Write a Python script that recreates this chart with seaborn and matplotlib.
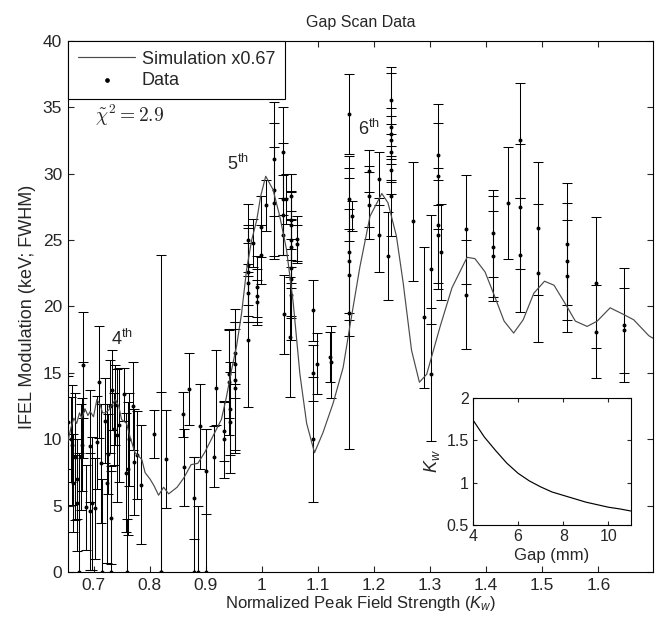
import matplotlib
matplotlib.use("Agg")
import matplotlib.pyplot as plt
import seaborn as sns

# Simulation curve (scaled x0.67)
sim_k = [0.654, 0.660, 0.665, 0.670, 0.675, 0.679, 0.685, 0.690, 0.694, 0.700,
         0.706, 0.712, 0.716, 0.721, 0.727, 0.733, 0.739, 0.745, 0.750, 0.759,
         0.765, 0.774, 0.786, 0.792, 0.801, 0.808, 0.816, 0.825, 0.834, 0.849,
         0.861, 0.874, 0.886, 0.898, 0.910, 0.928, 0.937, 0.946, 0.955, 0.964,
         0.973, 0.982, 0.991, 0.998, 1.007, 1.020, 1.032, 1.044, 1.056, 1.068,
         1.080, 1.094, 1.109, 1.127, 1.145, 1.157, 1.175, 1.193, 1.214, 1.225,
         1.240, 1.252, 1.267, 1.281, 1.294, 1.318, 1.339, 1.366, 1.380, 1.398,
         1.413, 1.432, 1.449, 1.466, 1.485, 1.504, 1.521, 1.544, 1.559, 1.580,
         1.598, 1.621, 1.645, 1.663, 1.690, 1.698]
sim_mod = [9.8, 10.9, 11.6, 11.2, 12.0, 11.6, 12.3, 11.8, 12.1, 11.7,
           13.0, 12.6, 12.0, 12.0, 12.2, 12.6, 13.0, 12.5, 11.5, 11.2,
           10.2, 9.0, 8.5, 7.5, 7.0, 6.5, 5.8, 6.4, 5.9, 6.4,
           7.1, 8.1, 8.2, 9.0, 10.0, 11.5, 13.2, 15.2, 17.0, 19.5,
           22.8, 25.0, 26.5, 28.3, 29.8, 28.8, 26.8, 24.3, 20.3, 14.9,
           11.2, 9.0, 10.5, 12.7, 15.4, 18.5, 23.0, 26.8, 28.5, 27.8,
           25.3, 21.8, 16.7, 14.3, 14.9, 18.5, 21.4, 23.7, 23.6, 22.6,
           21.0, 18.9, 18.0, 19.0, 21.0, 21.9, 21.6, 20.0, 18.9, 18.5,
           18.9, 19.9, 19.4, 19.0, 17.8, 17.6]

# Measured data: normalized K, modulation (keV) and error
data_k = [0.654, 0.660, 0.661, 0.663, 0.667, 0.670, 0.671, 0.675, 0.678, 0.679,
          0.681, 0.682, 0.687, 0.693, 0.694, 0.698, 0.703, 0.706, 0.709, 0.714,
          0.716, 0.720, 0.724, 0.726, 0.729, 0.732, 0.732, 0.733, 0.736, 0.739,
          0.742, 0.746, 0.755, 0.758, 0.760, 0.762, 0.764, 0.770, 0.773, 0.777,
          0.785, 0.808, 0.820, 0.820, 0.829, 0.859, 0.862, 0.871, 0.879, 0.880,
          0.887, 0.890, 0.900, 0.900, 0.915, 0.918, 0.933, 0.933, 0.942, 0.942,
          0.944, 0.944, 0.953, 0.953, 0.953, 0.953, 0.975, 0.975, 0.975, 0.975,
          0.975, 0.975, 0.985, 0.991, 0.991, 0.991, 0.999, 0.999, 1.008, 1.022,
          1.022, 1.022, 1.037, 1.037, 1.037, 1.037, 1.040, 1.043, 1.052, 1.052,
          1.052, 1.052, 1.052, 1.052, 1.052, 1.052, 1.050, 1.062, 1.062, 1.092,
          1.092, 1.092, 1.098, 1.121, 1.123, 1.156, 1.156, 1.156, 1.156, 1.156,
          1.156, 1.161, 1.192, 1.192, 1.192, 1.209, 1.209, 1.225, 1.230, 1.230,
          1.230, 1.230, 1.230, 1.230, 1.230, 1.269, 1.289, 1.302, 1.302, 1.314,
          1.314, 1.314, 1.314, 1.320, 1.364, 1.364, 1.412, 1.412, 1.412, 1.439,
          1.460, 1.460, 1.460, 1.492, 1.492, 1.544, 1.544, 1.544, 1.596, 1.596,
          1.646, 1.646]
data_mod = [11.3, 10.0, 9.6, 6.7, 8.7, 7.0, 5.2, 0.0, 8.7, 9.6,
            12.2, 15.6, 4.9, 4.6, 9.5, 5.2, 4.8, 9.8, 14.3, 8.2,
            0.0, 11.4, 6.7, 8.9, 12.5, 4.1, 0.0, 13.7, 10.8, 12.6,
            10.3, 11.1, 13.4, 7.5, 0.0, 7.8, 10.0, 12.5, 8.3, 8.8,
            6.6, 10.4, 0.0, 0.0, 8.5, 11.9, 7.9, 13.8, 0.0, 5.6,
            0.0, 11.0, 7.6, 0.0, 8.7, 13.9, 10.6, 10.0, 14.9, 14.3,
            12.3, 11.3, 16.5, 15.7, 14.5, 13.9, 25.0, 23.1, 22.6, 21.8,
            21.0, 17.5, 24.8, 21.5, 20.8, 20.3, 26.0, 23.9, 27.6, 31.1,
            28.8, 27.8, 31.6, 28.1, 26.9, 25.4, 19.4, 28.1, 28.3, 26.5,
            26.1, 25.0, 24.5, 22.9, 22.1, 20.9, 17.7, 25.1, 24.7, 19.7,
            15.0, 10.0, 15.7, 16.2, 15.8, 34.5, 28.1, 24.1, 23.4, 22.4,
            19.5, 26.8, 30.2, 28.3, 27.6, 29.6, 25.4, 23.8, 35.5, 33.5,
            33.0, 32.5, 31.6, 30.3, 28.3, 26.4, 19.2, 22.8, 14.9, 31.4,
            29.8, 26.1, 25.4, 24.1, 25.8, 20.9, 25.5, 24.5, 23.8, 27.8,
            32.5, 27.5, 23.9, 25.9, 22.5, 24.7, 23.4, 22.3, 21.8, 18.1,
            18.6, 18.2]
data_err = [3.5, 3.2, 4.5, 3.7, 4.8, 3.0, 3.6, 9.0, 4.0, 3.5,
            3.6, 4.0, 3.2, 4.4, 4.2, 5.0, 3.8, 3.5, 4.2, 4.5,
            7.0, 3.2, 6.0, 3.0, 3.5, 3.5, 8.0, 3.0, 2.7, 3.0,
            5.0, 4.3, 2.0, 4.5, 4.0, 5.0, 3.5, 3.3, 4.0, 3.3,
            4.5, 1.8, 13.6, 23.9, 3.7, 1.7, 2.9, 2.7, 8.7, 3.1,
            5.0, 3.2, 3.2, 10.8, 2.3, 2.8, 2.2, 2.9, 3.3, 4.0,
            3.5, 3.8, 2.3, 2.6, 5.3, 4.9, 2.7, 3.0, 3.3, 3.0,
            2.2, 5.1, 1.8, 2.3, 2.0, 1.7, 2.3, 2.2, 1.9, 4.3,
            5.0, 4.2, 3.4, 4.2, 3.0, 1.5, 3.0, 1.9, 1.7, 3.5,
            2.6, 3.6, 2.7, 3.6, 3.0, 3.4, 4.5, 1.7, 1.4, 2.3,
            2.1, 4.7, 2.3, 1.9, 2.7, 3.0, 3.2, 6.3, 3.9, 3.4,
            10.2, 1.1, 1.6, 2.3, 2.5, 2.0, 2.8, 3.3, 2.5, 4.1,
            1.9, 1.8, 2.1, 1.8, 3.0, 4.5, 5.3, 4.1, 5.0, 3.8,
            4.0, 4.3, 4.1, 3.6, 4.1, 4.1, 3.3, 3.8, 3.4, 4.2,
            4.3, 4.7, 4.3, 5.0, 5.2, 4.6, 4.4, 4.2, 4.9, 3.5,
            4.3, 3.2]

# Inset: undulator strength vs gap
gap_mm = [4.0, 4.5, 5.0, 5.5, 6.0, 6.5, 7.0, 7.5, 8.0, 8.5, 9.0, 9.5, 10.0, 10.5, 11.0]
kw = [1.74, 1.54, 1.38, 1.23, 1.11, 1.02, 0.95, 0.89, 0.85, 0.81, 0.77, 0.74, 0.71, 0.69, 0.665]

sns.set_theme(style="ticks")
plt.rcParams["font.family"] = ["Liberation Sans", "DejaVu Sans"]
plt.rcParams["mathtext.fontset"] = "custom"
plt.rcParams["mathtext.rm"] = "Liberation Sans"
plt.rcParams["mathtext.it"] = "Liberation Sans:italic"
plt.rcParams["xtick.direction"] = "in"
plt.rcParams["ytick.direction"] = "in"
plt.rcParams["xtick.top"] = True
plt.rcParams["ytick.right"] = True

fig = plt.figure(figsize=(6.56, 6.23), dpi=100)
ax = fig.add_axes([0.1032, 0.0814, 0.8927, 0.8533])

ax.errorbar(data_k, data_mod, yerr=data_err, fmt="none", ecolor="black",
            elinewidth=0.75, capsize=3.8, capthick=0.75, zorder=2)
sns.scatterplot(x=data_k, y=data_mod, color="black", s=8, linewidth=0,
                ax=ax, zorder=3, label="Data")
sns.lineplot(x=sim_k, y=sim_mod, color="#4a4a4a", linewidth=0.85, sort=False,
             estimator=None, ax=ax, zorder=4, label="Simulation x0.67")

ax.set_xlim(0.654, 1.698)
ax.set_ylim(0, 40)
ax.set_xticks([0.7, 0.8, 0.9, 1.0, 1.1, 1.2, 1.3, 1.4, 1.5, 1.6])
ax.set_xticklabels(["0.7", "0.8", "0.9", "1", "1.1", "1.2", "1.3", "1.4", "1.5", "1.6"])
ax.set_yticks(range(0, 41, 5))
ax.tick_params(labelsize=12.5, length=4, width=0.8, pad=4)
for s in ax.spines.values():
    s.set_linewidth(0.8)
    s.set_color("black")

ax.set_title("Gap Scan Data", fontsize=11.5, pad=10)
ax.set_xlabel(r"Normalized Peak Field Strength ($K_w$)", fontsize=12, labelpad=1)
ax.set_ylabel("IFEL Modulation (keV; FWHM)", fontsize=13, labelpad=5)

h, l = ax.get_legend_handles_labels()
order = [l.index("Simulation x0.67"), l.index("Data")]
leg = ax.legend([h[i] for i in order], [l[i] for i in order], loc="upper left",
                borderaxespad=0, fancybox=False, edgecolor="black", framealpha=1,
                fontsize=13, handlelength=3.2, handletextpad=0.35, borderpad=0.55,
                labelspacing=0.25, markerscale=1.2)
leg.get_frame().set_linewidth(0.8)

ax.text(0.703, 33.9, r"$\tilde{\chi}^2 = 2.9$", fontsize=14, va="baseline",
        math_fontfamily="cm")
ax.text(0.732, 17.1, r"4$^{\mathrm{th}}$", fontsize=13, va="baseline")
ax.text(0.938, 30.3, r"5$^{\mathrm{th}}$", fontsize=13, va="baseline")
ax.text(1.172, 32.9, r"6$^{\mathrm{th}}$", fontsize=13, va="baseline")

# Inset
axi = fig.add_axes([0.721, 0.1573, 0.2409, 0.2039])
sns.lineplot(x=gap_mm, y=kw, color="black", linewidth=0.85, ax=axi)
axi.set_xlim(4, 11)
axi.set_ylim(0.5, 2)
axi.set_xticks([4, 6, 8, 10])
axi.set_yticks([0.5, 1, 1.5, 2])
axi.set_yticklabels(["0.5", "1", "1.5", "2"])
axi.tick_params(labelsize=11.5, length=3, width=0.8, pad=3)
for s in axi.spines.values():
    s.set_linewidth(0.8)
    s.set_color("black")
axi.set_xlabel("Gap (mm)", fontsize=12, labelpad=3)
axi.set_ylabel(r"$K_w$", fontsize=13, labelpad=3)

fig.savefig("out.png", dpi=100)
